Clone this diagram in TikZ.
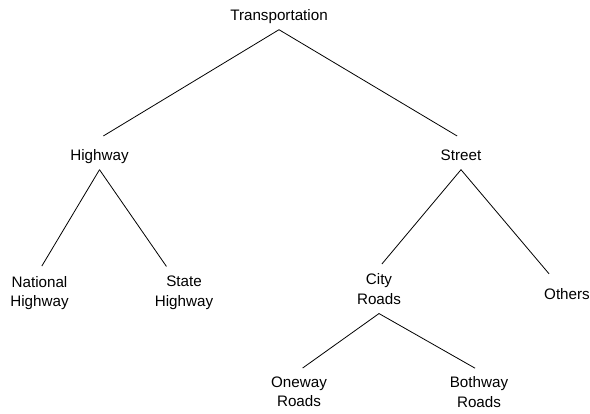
\documentclass[tikz,border=0pt]{standalone}
\usepackage{fontspec}
\setmainfont{Liberation Sans}
\usepackage{tikz}
\usetikzlibrary{positioning}
\newcommand{\termstrut}{\rule[-3.2pt]{0pt}{19pt}}

\begin{document}
\begin{tikzpicture}[x=1pt,y=-1pt,
  term/.style={align=center,inner sep=6pt,font=\fontsize{15.2}{19.5}\selectfont,
    execute at begin node={\termstrut},execute at end node={\termstrut}},
  branch/.style={line width=0.8pt,shorten >=4.5pt}]
\useasboundingbox (0,0) rectangle (590,414);
% levels of the tree
\node[term] (trans) at (279,14) {Transportation};
\node[term] (high) at (99.5,154) {Highway};
\node[term] (street) at (461,154) {Street};
\node[term] (nat) at (39.5,293) {National\\Highway};
\node[term] (state) at (184,293) {State\\Highway};
\node[term] (city) at (379,290.5) {City\\Roads};
\node[term] (oth) at (567,293) {Others};
\node[term] (one) at (299,393.5) {Oneway\\Roads};
\node[term] (both) at (479,393.5) {Bothway\\Roads};
% branches
\draw[branch] (trans.south) -- (high.north);
\draw[branch] (trans.south) -- (street.north);
\draw[branch] (high.south) -- (nat.north);
\draw[branch] (high.south) -- ([xshift=-15pt]state.north);
\draw[branch] (street.south) -- (city.north);
\draw[branch] (street.south) -- ([xshift=-15pt]oth.north);
\draw[branch] (city.south) -- (one.north);
\draw[branch] (city.south) -- (both.north);
\end{tikzpicture}
\end{document}
